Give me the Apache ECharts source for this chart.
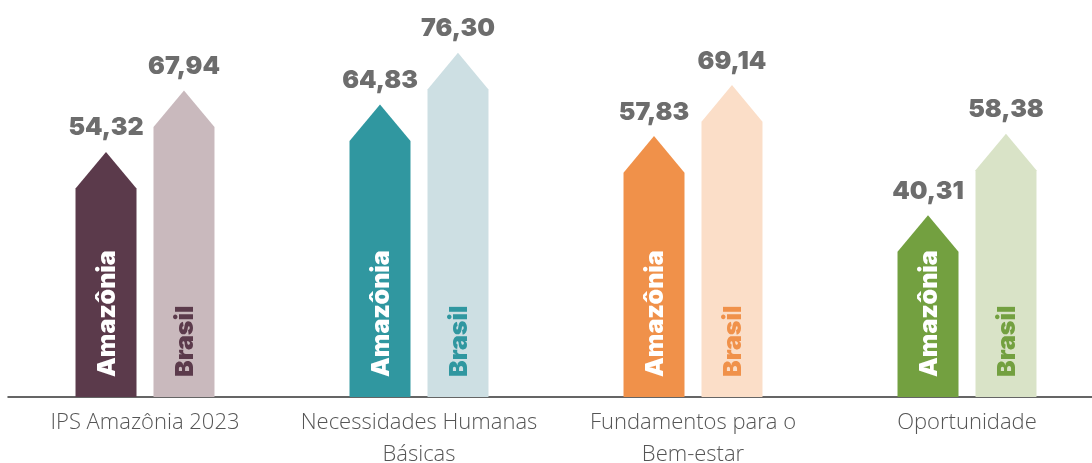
<!DOCTYPE html>
<html>
<head>
<meta charset="utf-8">
<script src="https://cdn.jsdelivr.net/npm/echarts@6/dist/echarts.min.js"></script>
<style>
  html, body { margin: 0; padding: 0; background: #fff; }
  #chart { width: 1092px; height: 463px; }
</style>
</head>
<body>
<div id="chart"></div>
<script>
const categories = ['IPS Amazônia 2023', 'Necessidades Humanas\nBásicas', 'Fundamentos para o\nBem-estar', 'Oportunidade']
const amazonia = [54.32, 64.83, 57.83, 40.31]
const brasil = [67.94, 76.30, 69.14, 58.38]

// cores por categoria (escura = Amazônia, clara = Brasil)
const darkColors = ['#5b3a4b', '#3097a0', '#f0914a', '#73a040']
const lightColors = ['#c9b9bd', '#cddfe3', '#fbdec8', '#d9e3c7']

const fmt = v => v.toFixed(2).replace('.', ',')

// barra em forma de seta; side = -1 (esquerda) ou 1 (direita)
function arrowRenderer (side, name, fillColors, textColors) {
  return function (params, api) {
    const cat = api.value(0)
    const val = api.value(1)
    const top = api.coord([cat, val])
    const base = api.coord([cat, 0])
    const band = api.size([1, 0])[0]
    const w = band * 0.2226
    const cx = top[0] + side * band * 0.1423
    const tipH = w * 0.6
    const tip = top[1]
    const shoulder = tip + tipH
    return {
      type: 'group',
      children: [
        {
          type: 'polygon',
          shape: {
            points: [
              [cx - w / 2, base[1]],
              [cx - w / 2, shoulder],
              [cx, tip],
              [cx + w / 2, shoulder],
              [cx + w / 2, base[1]]
            ]
          },
          style: { fill: fillColors[cat] }
        },
        {
          type: 'text',
          x: cx,
          y: tip - 24,
          style: {
            text: fmt(val),
            fill: '#6d6d6d',
            fontFamily: 'Inter',
            fontWeight: 900,
            fontSize: 25,
            align: 'center',
            verticalAlign: 'middle'
          }
        },
        {
          type: 'text',
          x: cx + 1,
          y: base[1] - 20,
          rotation: Math.PI / 2,
          style: {
            text: name,
            fill: textColors[cat],
            fontFamily: 'Inter',
            fontWeight: 900,
            fontSize: 25,
            align: 'left',
            verticalAlign: 'middle'
          }
        }
      ]
    }
  }
}

const chart = echarts.init(document.getElementById('chart'))

chart.setOption({
  animation: false,
  grid: { left: 8, width: 1096, top: 0, bottom: 66, outerBoundsMode: 'none', containLabel: false },
  xAxis: {
    type: 'category',
    data: categories,
    axisTick: { show: false },
    axisLine: { lineStyle: { color: '#333', width: 1.5 } },
    axisLabel: {
      interval: 0,
      margin: 10,
      color: '#555555',
      fontFamily: 'Open Sans',
      fontWeight: 300,
      fontSize: 22,
      lineHeight: 32
    }
  },
  yAxis: {
    type: 'value',
    min: 0,
    max: 88,
    show: false,
    splitLine: { show: false }
  },
  series: [
    {
      name: 'Amazônia',
      type: 'custom',
      clip: false,
      renderItem: arrowRenderer(-1, 'Amazônia', darkColors, darkColors.map(() => '#ffffff')),
      encode: { x: 0, y: 1 },
      data: amazonia.map((v, i) => [i, v])
    },
    {
      name: 'Brasil',
      type: 'custom',
      clip: false,
      renderItem: arrowRenderer(1, 'Brasil', lightColors, darkColors),
      encode: { x: 0, y: 1 },
      data: brasil.map((v, i) => [i, v])
    }
  ]
})
</script>
</body>
</html>
